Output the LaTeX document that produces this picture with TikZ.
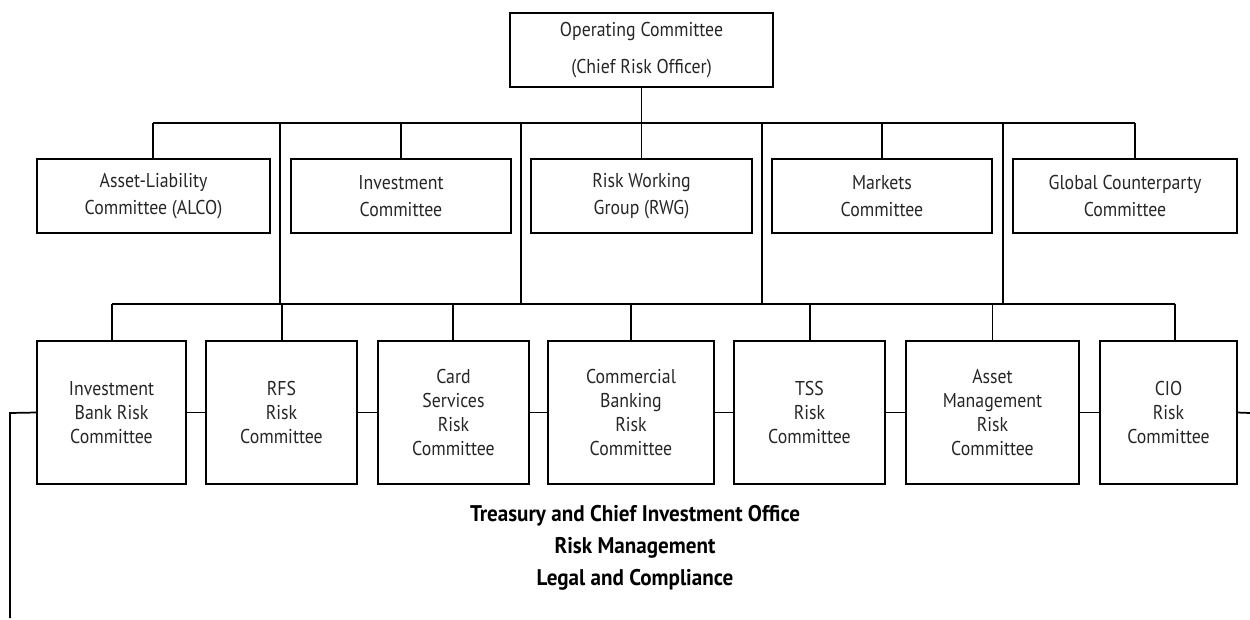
\documentclass[tikz,border=0pt]{standalone}
\usepackage{fontspec}
\setmainfont[FakeStretch=0.89]{PT Sans}
\newfontfamily\notefont[FakeStretch=0.93]{PT Sans}
\begin{document}
\begin{tikzpicture}[x=0.75pt,y=-0.75pt,
  conn/.style={line width=1.3pt},
  boxbase/.style={draw,line width=1.3pt,inner sep=0pt,outer sep=0pt,align=center,text=black!85},
  topbox/.style={boxbase,minimum width=197.25pt,minimum height=55.5pt,font=\fontsize{15}{28}\selectfont},
  midbox/.style={boxbase,minimum height=55.5pt,font=\fontsize{15}{20}\selectfont},
  lowbox/.style={boxbase,minimum height=107.25pt,font=\fontsize{15}{18}\selectfont},
  note/.style={font=\notefont\fontsize{17}{18}\selectfont\bfseries}]
\useasboundingbox (0,0) rectangle (1250,620);
% top
\node[topbox] (op) at (641.5,50) {Operating Committee\\(Chief Risk Officer)};
% second row
\node[midbox,minimum width=174.75pt] (alco) at (153.5,196) {Asset-Liability\\Committee (ALCO)};
\node[midbox,minimum width=165pt] (inv) at (401,196) {Investment\\Committee};
\node[midbox,minimum width=165.75pt] (rwg) at (641.5,196) {Risk Working\\Group (RWG)};
\node[midbox,minimum width=165pt] (mkt) at (882,196) {Markets\\Committee};
\node[midbox,minimum width=168pt] (gcc) at (1125,196) {Global Counterparty\\Committee};
% third row
\node[lowbox,minimum width=111.75pt] (b1) at (111.5,412.5) {Investment\\Bank Risk\\Committee};
\node[lowbox,minimum width=113.25pt] (b2) at (281.5,412.5) {RFS\\Risk\\Committee};
\node[lowbox,minimum width=113.25pt] (b3) at (453.5,412.5) {Card\\Services\\Risk\\Committee};
\node[lowbox,minimum width=124.5pt] (b4) at (631,412.5) {Commercial\\Banking\\Risk\\Committee};
\node[lowbox,minimum width=113.25pt] (b5) at (809.5,412.5) {TSS\\Risk\\Committee};
\node[lowbox,minimum width=129.75pt] (b6) at (992.5,412.5) {Asset\\Management\\Risk\\Committee};
\node[lowbox,minimum width=102.75pt] (b7) at (1168.5,412.5) {CIO\\Risk\\Committee};
% bottom notes
\node[note] (n1) at (635,516) {Treasury and Chief Investment Office};
\node[note] (n2) at (635,548) {Risk Management};
\node[note] (n3) at (635,580) {Legal and Compliance};
% bus coordinates
\coordinate (bus1l) at (153,123);
\coordinate (bus1r) at (1135,123);
\coordinate (bus2l) at (112,304);
\coordinate (bus2r) at (1175,304);
\coordinate (lft) at (10,413);
\coordinate (lftb) at (10,618);
\coordinate (rgt) at (1250,413);
% connectors: top level
\draw[conn] (op.south) -- (rwg.north);
\draw[conn] (bus1l) -- (bus1r);
\draw[conn] (bus1l) -- (bus1l |- alco.north);
\draw[conn] (inv.north |- bus1l) -- (inv.north);
\draw[conn] (mkt.north |- bus1l) -- (mkt.north);
\draw[conn] (bus1r) -- (bus1r |- gcc.north);
% drops from bus 1 to bus 2
\foreach \x in {280,521,762,1003}
  \draw[conn] (\x,123) -- (\x,304);
\draw[conn] (bus2l) -- (bus2r);
% drops to lower boxes
\draw[conn] (bus2l) -- (bus2l |- b1.north);
\draw[conn] (282,304) -- (282,341);
\draw[conn] (453,304) -- (453,341);
\draw[conn] (b4.north |- bus2l) -- (b4.north);
\draw[conn] (810,304) -- (810,341);
\draw[conn] (b6.north |- bus2l) -- (b6.north);
\draw[conn] (bus2r) -- (bus2r |- b7.north);
% side links
\draw[conn] (b1.east) -- (b2.west);
\draw[conn] (b2.east) -- (b3.west);
\draw[conn] (b3.east) -- (b4.west);
\draw[conn] (b4.east) -- (b5.west);
\draw[conn] (b5.east) -- (b6.west);
\draw[conn] (b6.east) -- (b7.west);
\draw[conn] (b1.west) -- (lft) -- (lftb);
\draw[conn] (b7.east) -- (rgt);
\end{tikzpicture}
\end{document}
